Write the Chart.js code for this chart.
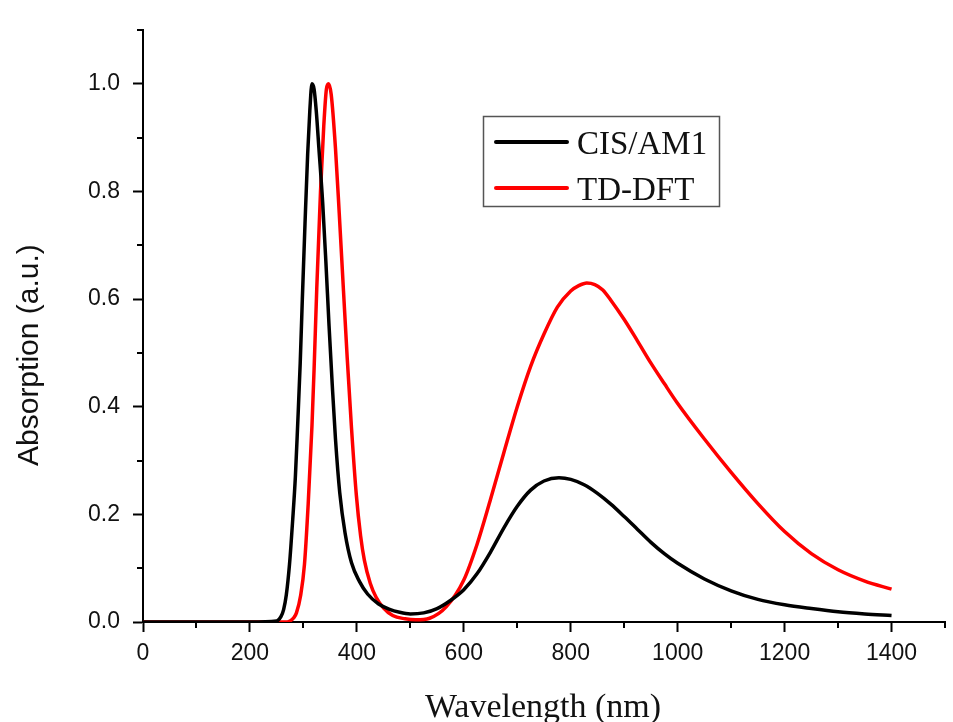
<!DOCTYPE html>
<html>
<head>
<meta charset="utf-8">
<script src="https://cdn.jsdelivr.net/npm/chart.js@4/dist/chart.umd.min.js"></script>
<style>
  html, body { margin: 0; padding: 0; background: #ffffff; }
  #wrap { width: 953px; height: 722px; }
</style>
</head>
<body>
<div id="wrap"><canvas id="c" width="953" height="722"></canvas></div>
<script>
// ---- Data ----
const seriesLabels = ["CIS/AM1", "TD-DFT"];
const seriesColors = ["#000000", "#ff0000"];

const cisWavelength = [0, 200, 250, 258, 263, 268, 274, 280, 285, 289, 294, 298, 303, 308, 312, 316, 320, 324, 329, 336, 342, 348, 354, 360, 368, 378, 390, 405, 420, 440, 460, 480, 500, 525, 550, 575, 600, 625, 650, 675, 700, 725, 750, 778, 800, 825, 850, 875, 900, 925, 950, 975, 1000, 1050, 1100, 1150, 1200, 1250, 1300, 1350, 1400];
const cisAbsorption = [0, 0, 0.002, 0.01, 0.023, 0.05, 0.107, 0.19, 0.27, 0.36, 0.48, 0.6, 0.74, 0.87, 0.95, 1.0, 0.99, 0.95, 0.88, 0.78, 0.67, 0.55, 0.44, 0.34, 0.24, 0.165, 0.11, 0.075, 0.052, 0.034, 0.024, 0.018, 0.015, 0.017, 0.025, 0.04, 0.06, 0.09, 0.13, 0.175, 0.215, 0.245, 0.262, 0.268, 0.265, 0.255, 0.239, 0.219, 0.196, 0.172, 0.148, 0.127, 0.109, 0.08, 0.058, 0.042, 0.032, 0.025, 0.019, 0.015, 0.012];

const tddftWavelength = [0, 200, 265, 275, 282, 287, 295, 302, 309, 316, 320, 325, 332, 338, 343, 347, 352, 360, 367, 375, 382, 390, 399, 407, 414, 425, 436, 450, 467, 490, 510, 536, 567, 600, 625, 650, 675, 700, 725, 750, 775, 800, 815, 830, 845, 860, 875, 900, 925, 950, 975, 1000, 1050, 1100, 1150, 1200, 1250, 1300, 1350, 1400];
const tddftAbsorption = [0, 0, 0, 0.002, 0.008, 0.017, 0.05, 0.107, 0.22, 0.364, 0.47, 0.62, 0.8, 0.92, 0.99, 1.0, 0.98, 0.88, 0.76, 0.615, 0.49, 0.36, 0.236, 0.16, 0.115, 0.072, 0.046, 0.026, 0.012, 0.006, 0.004, 0.007, 0.028, 0.078, 0.145, 0.228, 0.315, 0.4, 0.475, 0.535, 0.585, 0.615, 0.625, 0.63, 0.627, 0.617, 0.598, 0.562, 0.522, 0.481, 0.443, 0.406, 0.34, 0.278, 0.22, 0.168, 0.127, 0.097, 0.076, 0.061];

const xAxisTitle = "Wavelength (nm)";
const yAxisTitle = "Absorption (a.u.)";
const xMinorTicks = [100, 300, 500, 700, 900, 1100, 1300, 1500];
const yMinorTicks = [0.1, 0.3, 0.5, 0.7, 0.9, 1.1];

function toPoints(xs, ys) { return xs.map((x, i) => ({ x: x, y: ys[i] })); }

const decorPlugin = {
  id: 'decor',
  afterDraw(chart) {
    const ctx = chart.ctx;
    const xs = chart.scales.x, ys = chart.scales.y;
    const area = chart.chartArea;
    ctx.save();
    // minor ticks
    ctx.strokeStyle = '#000';
    ctx.lineWidth = 2;
    ctx.beginPath();
    xMinorTicks.forEach(v => {
      const px = Math.round(xs.getPixelForValue(v));
      ctx.moveTo(px, area.bottom);
      ctx.lineTo(px, area.bottom + 6);
    });
    yMinorTicks.forEach(v => {
      const py = Math.round(ys.getPixelForValue(v));
      ctx.moveTo(area.left - 6, py);
      ctx.lineTo(area.left, py);
    });
    ctx.stroke();

    // axis titles
    ctx.fillStyle = '#111';
    ctx.font = '34px "Liberation Serif", "Times New Roman", serif';
    ctx.textAlign = 'center';
    ctx.textBaseline = 'alphabetic';
    ctx.fillText(xAxisTitle, 543, 717);

    ctx.save();
    ctx.translate(38, 466);
    ctx.rotate(-Math.PI / 2);
    ctx.font = '30px "Liberation Sans", Arial, sans-serif';
    ctx.textAlign = 'left';
    ctx.fillText(yAxisTitle, 0, 0);
    ctx.restore();

    // legend box
    ctx.strokeStyle = '#555';
    ctx.lineWidth = 1.5;
    ctx.strokeRect(483.5, 116.5, 236, 90);
    const rows = [142, 188];
    chart.data.datasets.forEach((ds, i) => {
      const y = rows[i];
      ctx.strokeStyle = ds.borderColor;
      ctx.lineWidth = 4;
      ctx.lineCap = 'round';
      ctx.beginPath();
      ctx.moveTo(496, y);
      ctx.lineTo(567, y);
      ctx.stroke();
      ctx.fillStyle = '#111';
      ctx.font = '33px "Liberation Serif", "Times New Roman", serif';
      ctx.textAlign = 'left';
      ctx.textBaseline = 'alphabetic';
      ctx.fillText(ds.label, 577, y + 11.5);
    });
    ctx.restore();
  }
};

new Chart(document.getElementById('c'), {
  type: 'scatter',
  data: {
    datasets: [
      {
        label: seriesLabels[0],
        data: toPoints(cisWavelength, cisAbsorption),
        borderColor: seriesColors[0],
        backgroundColor: seriesColors[0],
        borderWidth: 3.5,
        showLine: true,
        pointRadius: 0,
        cubicInterpolationMode: 'monotone'
      },
      {
        label: seriesLabels[1],
        data: toPoints(tddftWavelength, tddftAbsorption),
        borderColor: seriesColors[1],
        backgroundColor: seriesColors[1],
        borderWidth: 3.5,
        showLine: true,
        pointRadius: 0,
        cubicInterpolationMode: 'monotone'
      }
    ]
  },
  options: {
    responsive: false,
    animation: false,
    devicePixelRatio: 1,
    layout: { padding: { left: 0, right: 8, top: 30, bottom: 0 } },
    plugins: {
      legend: { display: false },
      tooltip: { enabled: false },
      title: { display: false }
    },
    scales: {
      x: {
        type: 'linear',
        min: 0,
        max: 1500,
        afterFit: s => { s.height = 100; },
        border: { display: true, color: '#000', width: 2 },
        grid: { display: true, drawOnChartArea: false, drawTicks: true, tickLength: 10, tickWidth: 2, tickColor: '#000' },
        ticks: {
          stepSize: 200,
          includeBounds: false,
          color: '#111',
          padding: 8,
          maxRotation: 0,
          font: { family: '"Liberation Sans", Arial, sans-serif', size: 23 },
          callback: v => String(v)
        }
      },
      y: {
        type: 'linear',
        min: 0,
        max: 1.1,
        afterFit: s => { s.width = 143; },
        border: { display: true, color: '#000', width: 2 },
        grid: { display: true, drawOnChartArea: false, drawTicks: true, tickLength: 10, tickWidth: 2, tickColor: '#000' },
        ticks: {
          stepSize: 0.2,
          includeBounds: false,
          color: '#111',
          padding: 13,
          font: { family: '"Liberation Sans", Arial, sans-serif', size: 23 },
          callback: v => Number(v).toFixed(1)
        }
      }
    }
  },
  plugins: [decorPlugin]
});
</script>
</body>
</html>
